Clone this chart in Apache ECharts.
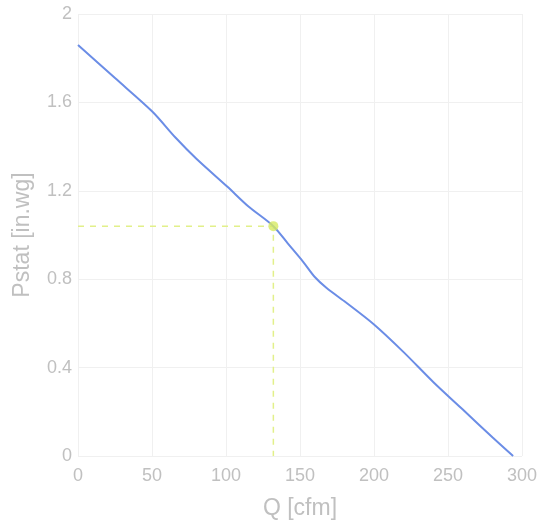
<!DOCTYPE html>
<html>
<head>
<meta charset="utf-8">
<script src="https://cdn.jsdelivr.net/npm/echarts@6/dist/echarts.min.js"></script>
<style>html,body{margin:0;padding:0;background:#fff}#c{width:548px;height:525px}</style>
</head>
<body>
<div id="c"></div>
<script>
var flowQ = [0, 25, 50, 66, 80, 101, 115, 132, 142, 152, 160, 168, 180, 200, 220, 240, 260, 280, 294];
var pstat = [1.86, 1.71, 1.56, 1.44, 1.345, 1.218, 1.13, 1.04, 0.96, 0.88, 0.81, 0.76, 0.70, 0.595, 0.47, 0.335, 0.21, 0.085, 0];
var opQ = 132;
var opP = 1.04;
var xTicks = [0, 50, 100, 150, 200, 250, 300];
var yTicks = [0, 0.4, 0.8, 1.2, 1.6, 2];

var chart = echarts.init(document.getElementById('c'));
var curve = flowQ.map(function (q, i) { return [q, pstat[i]]; });
var labelColor = '#c0c0c0';
chart.setOption({
  animation: false,
  grid: { left: 78, right: 26, top: 14, bottom: 66 },
  xAxis: {
    type: 'value', min: 0, max: 300, interval: 50,
    name: 'Q [cfm]', nameLocation: 'middle', nameGap: 41,
    nameTextStyle: { color: labelColor, fontSize: 23, fontFamily: 'Liberation Sans' },
    axisLine: { show: false }, axisTick: { show: false },
    axisLabel: { color: labelColor, fontSize: 18, fontFamily: 'Liberation Sans', margin: 11 },
    splitLine: { lineStyle: { color: '#f0f0f0' } }
  },
  yAxis: {
    type: 'value', min: 0, max: 2, interval: 0.4,
    name: 'Pstat [in.wg]', nameLocation: 'middle', nameGap: 44,
    nameTextStyle: { color: labelColor, fontSize: 23, fontFamily: 'Liberation Sans' },
    axisLine: { show: false }, axisTick: { show: false },
    axisLabel: { color: labelColor, fontSize: 18, fontFamily: 'Liberation Sans', margin: 6,
      padding: [0, 0, 6, 0],
      formatter: function (v) { return String(Math.round(v * 10) / 10); } },
    splitLine: { lineStyle: { color: '#f0f0f0' } }
  },
  series: [
    {
      type: 'line', data: curve, smooth: 0.3, showSymbol: false,
      lineStyle: { color: '#6b8de6', width: 2 }, z: 3
    },
    {
      type: 'line', data: [[0, opP], [opQ, opP], [opQ, 0]], showSymbol: false,
      lineStyle: { color: '#e2f08a', width: 1.5, type: [6, 6] }, z: 2
    },
    {
      type: 'scatter', data: [[opQ, opP]], symbol: 'circle', symbolSize: 10,
      itemStyle: { color: '#d6ea62' }, z: 4
    }
  ]
});
</script>
</body>
</html>
